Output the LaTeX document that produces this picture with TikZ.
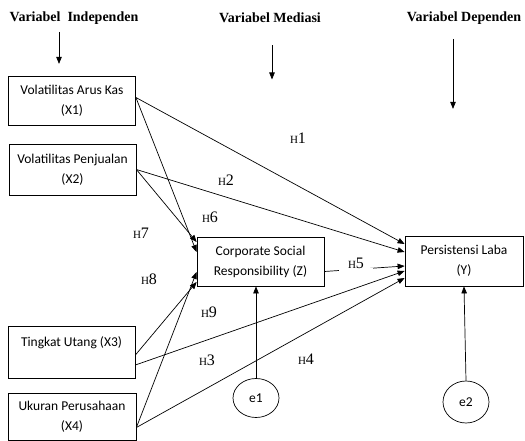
\documentclass[tikz,border=0pt]{standalone}
\usepackage{fontspec}
\setmainfont{Carlito}
\newfontfamily\timesfont{Liberation Serif}
\usetikzlibrary{arrows.meta,shapes.geometric}
\newcommand\hyp[1]{{\timesfont\fontsize{11}{11}\selectfont H\fontsize{16}{16}\selectfont#1}}

\begin{document}
\begin{tikzpicture}[x=1pt,y=-1pt,
  var/.style={draw,line width=.8pt,align=center,font=\fontsize{13.5}{20}\selectfont,inner sep=0pt},
  head/.style={font=\timesfont\bfseries\fontsize{14}{16}\selectfont},
  link/.style={line width=.7pt,-{Triangle[length=7pt,width=5.5pt]}},
  err/.style={draw,ellipse,line width=.7pt,inner sep=0pt,font=\fontsize{13.5}{16}\selectfont}]
\useasboundingbox (0,0) rectangle (525,441);
\node[head] (hi) at (74,18) {Variabel\ \ Independen};
\node[head] (hm) at (270,18) {Variabel Mediasi};
\node[head] (hd) at (464,18) {Variabel Dependen};
\draw[link] ([xshift=-15pt,yshift=-4pt]hi.south) -- ++(0,32);
\draw[link] ([xshift=2pt,yshift=-19pt]hm.south) -- ++(0,34);
\draw[link] ([xshift=-11pt,yshift=-11pt]hd.south) -- ++(0,70);
\node[var,minimum width=127,minimum height=49] (x1) at (72,100.5) {Volatilitas Arus Kas\\(X1)};
\node[var,minimum width=127,minimum height=51] (x2) at (72.5,169.5) {Volatilitas Penjualan\\(X2)};
\node[var,minimum width=127,minimum height=52] (x3) at (71.5,352) {Tingkat Utang (X3)\\\mbox{}};
\node[var,minimum width=128,minimum height=47] (x4) at (72,416.5) {Ukuran Perusahaan\\(X4)};
\node[var,minimum width=127,minimum height=49] (z) at (260.5,261.5) {Corporate Social\\Responsibility (Z)};
\node[var,minimum width=118,minimum height=50] (y) at (464,261) {Persistensi Laba\\(Y)};
\node[err,minimum width=46,minimum height=39] (e1) at (256,398) {e1};
\node[err,minimum width=46,minimum height=42] (e2) at (466,402) {e2};
\draw[link] ([yshift=3pt]x1.east) -- ([yshift=17pt]y.west);
\draw[link] ([yshift=3pt]x1.east) -- ([yshift=9.5pt]z.west);
\draw[link] (x2.east) -- ([yshift=9pt]y.west);
\draw[link] (x2.east) -- ([yshift=19.5pt]z.west);
\draw[link] ([yshift=-3pt]x3.east) -- ([yshift=-20.5pt]z.west);
\draw[link] ([yshift=-13pt]x3.east) -- ([yshift=-10pt]y.west);
\draw[link] ([yshift=-11pt]x4.east) -- ([yshift=-10.5pt]z.west);
\draw[link] ([yshift=-11pt]x4.east) -- ([yshift=-17pt]y.west);
\draw[link] ([yshift=-10pt]z.east) -- node[pos=.39,fill=white,minimum width=34pt,minimum height=3pt,inner sep=0pt]{} ([yshift=-5pt]y.west);
\draw[link] (e1.north) -- (e1.north |- z.south);
\draw[link] (e2.north) -- (y.south);
\node (h1) at (298,138) {\hyp{1}};
\node (h2) at (226,180) {\hyp{2}};
\node (h6) at (210,217) {\hyp{6}};
\node (h7) at (141,233) {\hyp{7}};
\node (h8) at (149,279) {\hyp{8}};
\node (h9) at (209,312) {\hyp{9}};
\node (h3) at (207,360) {\hyp{3}};
\node (h4) at (306,359) {\hyp{4}};
\node (h5) at (356,263) {\hyp{5}};
\end{tikzpicture}
\end{document}
